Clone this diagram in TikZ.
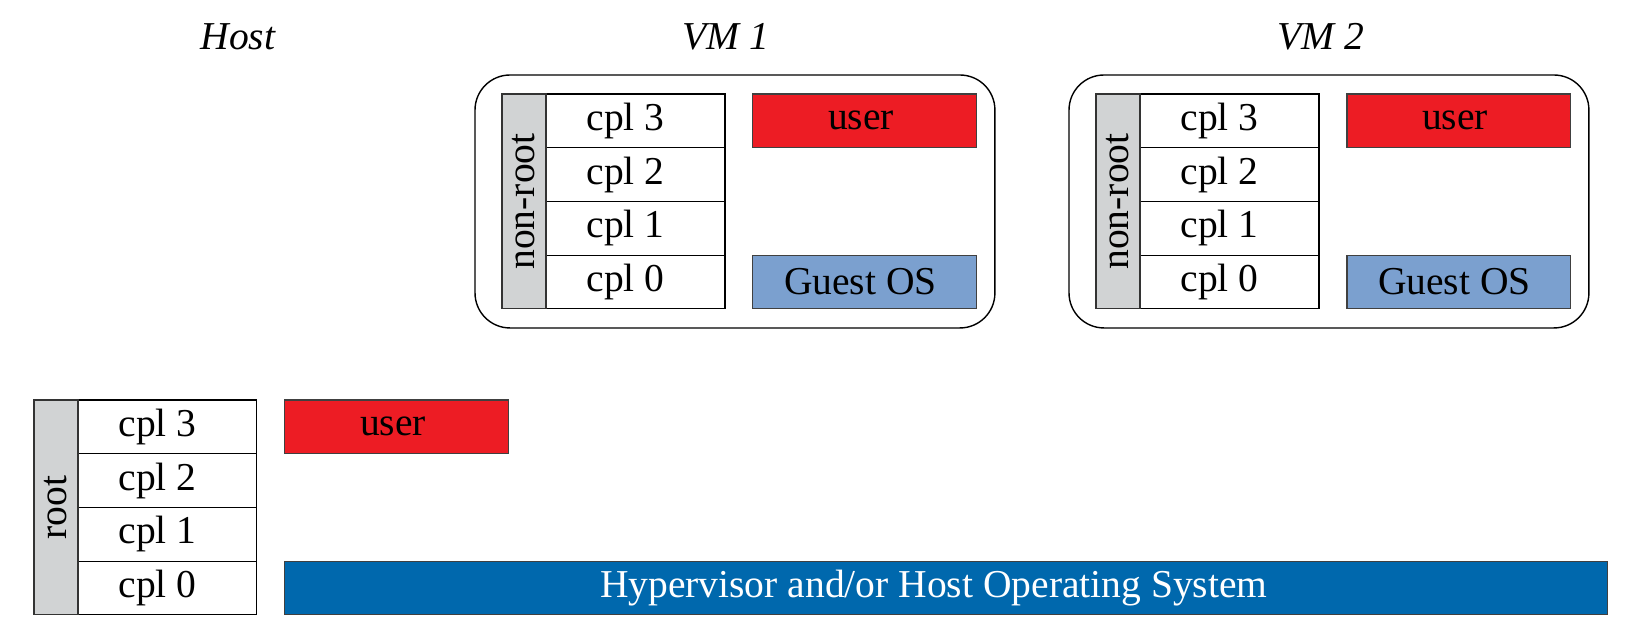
\documentclass[tikz,border=0pt]{standalone}
\usepackage{fontspec}
\setmainfont{Liberation Serif}
\usepackage{tikz}
\usetikzlibrary{positioning, calc, fit}
\definecolor{rolegray}{HTML}{D1D3D4}
\definecolor{userred}{HTML}{ED1C24}
\definecolor{guestblue}{HTML}{7BA0CF}
\definecolor{hypblue}{HTML}{0068AD}
\tikzset{
  cellbox/.style={
    rectangle,
    draw=black,
    line width=0.6pt,
    minimum width=3.58cm,
    minimum height=1.075cm,
    inner sep=0pt,
    outer sep=0pt,
    font=\fontsize{22.5}{27}\selectfont
  },
  ringbox/.style={
    cellbox,
    execute at end node={\hspace*{0.4cm}}
  },
  rolebox/.style={
    rectangle,
    draw=black!80,
    fill=rolegray,
    line width=0.6pt,
    minimum width=0.88cm,
    minimum height=4.3cm,
    inner sep=0pt,
    outer sep=0pt,
    font=\fontsize{22.5}{27}\selectfont
  },
  userbox/.style={
    cellbox,
    draw=black!75,
    fill=userred,
    minimum width=4.48cm,
    execute at end node={\hspace*{0.16cm}}
  },
  guestbox/.style={
    cellbox,
    draw=black!75,
    fill=guestblue,
    minimum width=4.48cm,
    execute at end node={\hspace*{0.18cm}}
  },
  hypbox/.style={
    cellbox,
    draw=black!75,
    fill=hypblue,
    text=white,
    minimum width=26.46cm,
    execute at end node={\hspace*{0.5cm}}
  },
  vmframe/.style={
    rectangle,
    draw=black,
    rounded corners=0.7cm,
    line width=0.8pt,
    inner ysep=0.38cm,
    inner xsep=0.45cm
  },
  titlelabel/.style={
    font=\itshape\fontsize{22.5}{27}\selectfont
  }
}

\begin{document}
\begin{tikzpicture}[x=0.02cm, y=-0.02cm, node distance=0pt and 0pt]
  \useasboundingbox (0,0) rectangle (1636,642);

  % host rings
  \node[ringbox, anchor=north west] (h3) at (78,400) {cpl 3};
  \node[ringbox, below=of h3] (h2) {cpl 2};
  \node[ringbox, below=of h2] (h1) {cpl 1};
  \node[ringbox, below=of h1] (h0) {cpl 0};
  \node[rolebox, left=of $(h3.north west)!0.5!(h0.south west)$] (hrole)
    {\rotatebox{90}{root}};
  \node[userbox, right=0.56cm of h3] (huser) {user};
  \node[hypbox, right=0.56cm of h0] (hyp) {Hypervisor and/or Host Operating System};

  % VM 1
  \node[ringbox, anchor=north west] (a3) at (546,94) {cpl 3};
  \node[ringbox, below=of a3] (a2) {cpl 2};
  \node[ringbox, below=of a2] (a1) {cpl 1};
  \node[ringbox, below=of a1] (a0) {cpl 0};
  \node[rolebox, left=of $(a3.north west)!0.5!(a0.south west)$] (arole)
    {\rotatebox{90}{non-root}};
  \node[userbox, right=0.56cm of a3] (auser) {user};
  \node[guestbox, right=0.56cm of a0] (aguest) {Guest OS};
  \node[vmframe, fit=(arole)(auser)(aguest), xshift=-0.09cm] (aframe) {};

  % VM 2
  \node[ringbox, anchor=north west] (b3) at (1140,94) {cpl 3};
  \node[ringbox, below=of b3] (b2) {cpl 2};
  \node[ringbox, below=of b2] (b1) {cpl 1};
  \node[ringbox, below=of b1] (b0) {cpl 0};
  \node[rolebox, left=of $(b3.north west)!0.5!(b0.south west)$] (brole)
    {\rotatebox{90}{non-root}};
  \node[userbox, right=0.56cm of b3] (buser) {user};
  \node[guestbox, right=0.56cm of b0] (bguest) {Guest OS};
  \node[vmframe, fit=(brole)(buser)(bguest), xshift=-0.09cm] (bframe) {};

  % titles
  \node[titlelabel] (hosttitle) at (238,37) {Host};
  \node[titlelabel] (atitle) at (726,37) {VM 1};
  \node[titlelabel] (btitle) at (1321,37) {VM 2};
\end{tikzpicture}
\end{document}
